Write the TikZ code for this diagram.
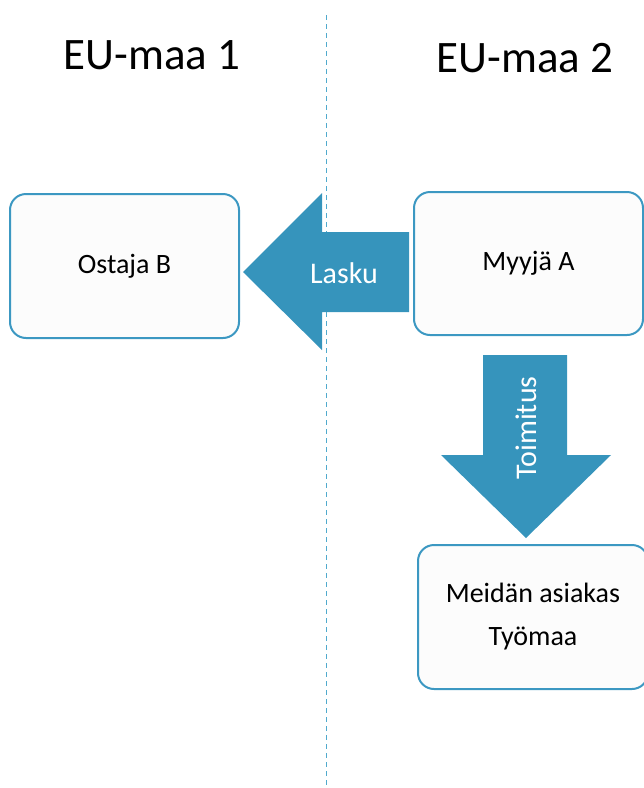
\documentclass[tikz,border=0pt]{standalone}
\usepackage{fontspec}
\setmainfont{Carlito}
\definecolor{flowblue}{RGB}{54,148,188}
\definecolor{boxedge}{RGB}{60,152,194}
\definecolor{boxfill}{RGB}{252,252,252}
\definecolor{borderline}{RGB}{80,170,205}
\tikzset{
  partybox/.style={draw=boxedge, line width=2pt, fill=boxfill, rounded corners=16pt,
    minimum width=#1, inner sep=0pt, align=center,
    font=\fontsize{28}{43}\selectfont},
  partybox/.default=229pt,
  blockarrow/.style={fill=flowblue, draw=none},
  arrowlabel/.style={text=white, inner sep=0pt, font=\fontsize{30}{36}\selectfont},
  countrytitle/.style={inner sep=0pt, font=\fontsize{45}{54}\selectfont},
}
\begin{document}
\begin{tikzpicture}[x=1pt, y=-1pt]
  \useasboundingbox (0,0) rectangle (644,788);

  % border between the two countries
  \coordinate (bordertop) at (326,15);
  \coordinate (borderbottom) at (326,786);
  \draw[borderline, line width=1pt, dash pattern=on 5pt off 4pt] (bordertop) -- (borderbottom);

  % country headings
  \node[countrytitle] (eu1) at (152,55) {EU-maa 1};
  \node[countrytitle] (eu2) at (525,58) {EU-maa 2};

  % parties
  \node[partybox, minimum height=144pt] (buyer) at (124.5,266) {Ostaja B};
  \node[partybox, minimum height=143pt] (seller) at (528.5,263.5) {Myyjä A};
  \node[partybox=230pt, minimum height=144pt] (site) at (533,617) {Meidän asiakas\\Työmaa};

  % invoice: seller -> buyer
  \fill[blockarrow] (409,232) -- (322,232) -- (322,193) -- (243,272)
    -- (322,350) -- (322,312) -- (409,312) -- cycle;
  \node[arrowlabel] (invoice) at (344,273) {Lasku};

  % delivery: seller -> site
  \fill[blockarrow] (483,355) -- (567,355) -- (567,455) -- (611,455)
    -- (526,538) -- (441,455) -- (483,455) -- cycle;
  \node[arrowlabel, rotate=90] (delivery) at (526,428) {Toimitus};
\end{tikzpicture}
\end{document}
